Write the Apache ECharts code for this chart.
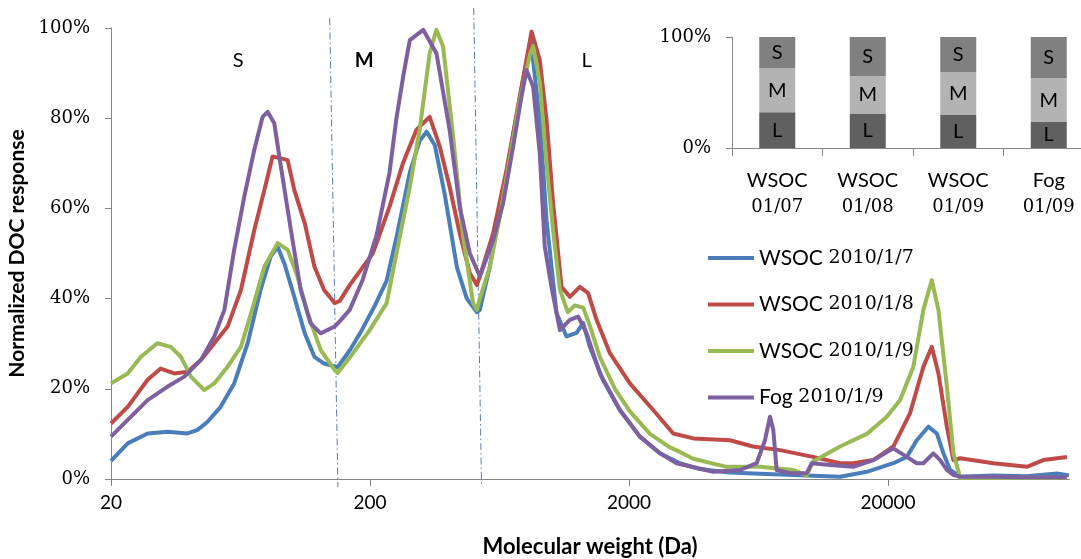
<!DOCTYPE html>
<html><head><meta charset="utf-8">
<script src="https://cdn.jsdelivr.net/npm/echarts@6/dist/echarts.min.js"></script>
<style>html,body{margin:0;padding:0;background:#fff}#c{width:1081px;height:559px}</style>
</head><body><div id="c"></div>
<script>
// ---------- DATA ----------
const seriesNames = ['WSOC 2010/1/7', 'WSOC 2010/1/8', 'WSOC 2010/1/9', 'Fog 2010/1/9'];

const wsoc17MW = [20,23.2,27.7,33.1,39.5,43.2,47.2,53,59.8,67.4,75.6,82.7,88,93.4,102,112,122,133,146,150,167,186,209,232,254,285,311,331,356,389,433,473,517,531,580,634,693,758,835,905,961,1050,1148,1255,1331,1412,1586,1844,2204,2633,3146,3758,4766,6022,7658,9714,13062,16562,20980,23640,25840,28640,30880,32740,34760,38000,51100,68780,90000,100000];
const wsoc17Pct = [4,7.9,10.1,10.5,10.1,10.9,12.7,16,21.2,30.1,41.9,49.3,51.5,47.8,40.4,32.3,27.1,25.6,25,24.8,28.5,33,38.5,44,54,68,75,77,74,63,47,40,37,37.5,47,59.6,72,84.8,97.5,79.6,57.4,36.8,31.6,32.4,34.6,29.3,22,15.3,9.4,5.7,3.5,2.2,1.5,1.2,1.0,0.8,0.5,1.6,3.5,4.9,8.6,11.6,10.1,5.7,2,0.5,0.8,0.6,1.2,0.8];

const wsoc18MW = [20,23.2,27.7,31.1,35.1,39.5,44.5,50.1,56.4,63.5,71.5,78.2,84.1,90.6,96.2,102,112,122,133,146,153,167,205,238,268,302,340,372,406,444,486,517,531,598,673,758,841,905,961,1019,1098,1182,1292,1391,1499,1688,2016,2480,2964,3540,4908,6022,7658,10274,13062,14702,17564,20980,24340,27400,29520,31320,33760,35780,38000,51100,68780,79520,98200];
const wsoc18Pct = [12.3,16,22,24.5,23.4,23.8,26.4,30.1,33.8,41.9,55.2,64.1,71.5,71.1,70.7,64.1,56.7,47.1,41.9,39,39.5,43,50,60.4,70,77.4,80.3,73.7,64.8,54.5,45.6,43,44.9,54.5,68.5,84.8,99.2,92.9,79.6,61.1,42.6,40.4,42.6,41.2,35.3,27.9,21.2,15.3,10.1,9,8.6,7.2,6.4,4.9,3.5,3.5,4.2,7.2,14.6,24.9,29.3,23.4,11.6,4.2,4.6,3.5,2.7,4.2,4.9];

const wsoc19MW = [20,23.2,26.1,30.2,34,37.2,40.7,45.8,50.1,56.4,63.5,69.4,78.2,88,96.2,105,115,129,146,150,172,199.5,232,253,285,311,340,361,383,419,458,500,517,531,580,634,693,758,828,853,905,961,1019,1082,1161,1236,1331,1412,1544,1765,2016,2409,2878,3146,3540,4766,6410,8596,9714,10274,13062,16562,19790,22280,25060,27400,29520,31320,33760,35780,38000,51100,68780,98200];
const wsoc19Pct = [21.2,23.4,27.1,30.1,29.3,27.1,22.7,19.7,21.2,24.9,29.3,36.7,47.1,52.3,50.8,44.9,36.7,28.6,24.2,23.5,27.9,33,39,50,64.8,77.4,94.4,99.6,95.9,75.9,53.7,39,37.5,40,47,58,71,84,94,96,88,70,55,42,37,38.5,38,34,27,20,15,10,7,6,4.5,2.7,2.7,2,0.8,3.9,7.2,10,13.8,17.5,24.9,37.5,44.1,37.5,20.5,5.7,0.3,0.3,0.3,0.3];

const fog19MW = [20,23.2,27.7,33.1,38.4,44.5,50.1,54.8,59.8,65.4,71.5,77,80.5,85.4,90.6,99,108,118,129,146,153,167,187,212,238,253,270,285,321,361,406,444,486,531,598,653,714,769,804,853,905,946,1004,1082,1182,1273,1372,1544,1844,2204,2633,3054,4231,5366,6223,6700,7006,7214,7436,8370,9714,10156,11948,14702,17564,20980,23640,25840,27400,29940,31800,33760,35780,38000,51100,68780,98200];
const fog19Pct = [9.4,13.1,17.5,20.5,22.7,26.4,31.6,37.5,50.8,62.6,73,80.3,81.4,78.9,69.2,55.2,41.9,34.5,32.3,33.8,35,37.5,44,54,68,80,90,97.3,99.6,94.4,77.4,60.4,50,44.9,53,61.1,73.7,84.8,90.7,87,72.2,51.5,42.6,33,35.3,36,32.3,23.4,15.3,9.4,5.7,3.5,1.6,2,3.5,8.6,13.8,10.9,2,1.3,1.3,3.5,3.1,2.7,4.2,6.8,4.9,3.5,3.5,5.7,4.2,2,0.9,0.5,0.5,0.4,0.4];

const xTickMW = [20, 200, 2000, 20000];
const xMinMW = 20, xMaxMW = 100000;

// Fraction dividers (dash-dot lines) and region labels
const dividerTopMW = [139.8, 503];
const dividerTopPct = [102.2, 104.4];
const dividerBottomMW = [150.4, 539];
const dividerBottomPct = [-1.8, -1.3];
const regionLabels = ['S', 'M', 'L'];
const regionLabelMW = [62, 190, 1372];
const regionLabelPct = [92.8, 92.8, 92.8];

// Inset stacked bars (percent of total)
const insetCatTop = ['WSOC', 'WSOC', 'WSOC', 'Fog'];
const insetCatBottom = ['01/07', '01/08', '01/09', '01/09'];
const insetL = [32.2, 31.0, 29.7, 23.4];
const insetM = [39.9, 33.6, 38.7, 39.6];
const insetS = [27.9, 35.4, 31.6, 37.0];

// ---------- CHART ----------
const toAxis = mw => Math.log10(mw / xMinMW);
const colors = ['#4A7EBB', '#BE4B48', '#98B954', '#7D60A0'];
const axisGray = '#868686';
const sans = 'Lato';
const serif = 'DejaVu Serif';

const lineData = [[wsoc17MW, wsoc17Pct], [wsoc18MW, wsoc18Pct], [wsoc19MW, wsoc19Pct], [fog19MW, fog19Pct]];
const lineSeries = lineData.map((d, i) => ({
  name: seriesNames[i], type: 'line', xAxisIndex: 0, yAxisIndex: 0,
  data: d[0].map((m, j) => [toAxis(m), d[1][j]]),
  showSymbol: false, symbol: 'none', smooth: false,
  lineStyle: { width: 4, color: colors[i], join: 'round' }, itemStyle: { color: colors[i] },
  z: 3 + i, animation: false
}));

const insetCats = insetCatTop.map((t, i) => t + '\n' + insetCatBottom[i]);
const barSeg = (name, vals, color) => ({
  name: name, type: 'bar', xAxisIndex: 1, yAxisIndex: 1, stack: 'frac', barWidth: 36,
  data: vals, itemStyle: { color: color },
  label: { show: true, position: 'inside', formatter: name, color: '#000', fontFamily: sans, fontSize: 20 },
  animation: false
});

const option = {
  backgroundColor: '#fff',
  animation: false,
  grid: [
    { left: 111, right: 12, top: 28, bottom: 80, outerBoundsMode: 'none', containLabel: false },
    { left: 732, top: 37, width: 362, height: 111, outerBoundsMode: 'none', containLabel: false }
  ],
  legend: {
    data: seriesNames, orient: 'vertical', left: 703, top: 242.5,
    icon: 'rect', itemWidth: 46, itemHeight: 4, itemGap: 25.5,
    formatter: n => { const p = n.split(' '); return '{a|' + p[0] + '} {b|' + p[1] + '}'; },
    textStyle: { color: '#000', fontSize: 20, lineHeight: 20,
      rich: { a: { fontFamily: sans, fontSize: 21, color: '#000' }, b: { fontFamily: serif, fontSize: 19, color: '#000' } } }
  },
  xAxis: [
    { type: 'value', gridIndex: 0, min: toAxis(xMinMW), max: toAxis(xMaxMW),
      name: 'Molecular weight (Da)', nameLocation: 'middle', nameGap: 57,
      nameTextStyle: { fontFamily: sans, fontWeight: 'bold', fontSize: 22, color: '#000' },
      axisLine: { show: true, lineStyle: { color: axisGray, width: 1 } },
      axisTick: { show: true, length: 7, customValues: xTickMW.map(toAxis), lineStyle: { color: axisGray } },
      axisLabel: { customValues: xTickMW.map(toAxis), margin: 14, fontFamily: sans, fontSize: 19, color: '#000',
        formatter: v => String(Math.round(xMinMW * Math.pow(10, v))) },
      splitLine: { show: false } },
    { type: 'category', gridIndex: 1, data: insetCats,
      axisLine: { show: true, lineStyle: { color: axisGray } },
      axisTick: { show: true, length: 8, lineStyle: { color: axisGray } },
      axisLabel: { interval: 0, margin: 19, color: '#000',
        formatter: v => { const p = v.split('\n'); return '{a|' + p[0] + '}\n{b|' + p[1] + '}'; },
        rich: { a: { fontFamily: sans, fontSize: 20, lineHeight: 27, color: '#000' }, b: { fontFamily: serif, fontSize: 18, lineHeight: 27, color: '#000' } } } }
  ],
  yAxis: [
    { type: 'value', gridIndex: 0, min: 0, max: 100, interval: 20,
      name: 'Normalized DOC response', nameLocation: 'middle', nameGap: 67,
      nameTextStyle: { fontFamily: sans, fontWeight: 'bold', fontSize: 21, color: '#000' },
      axisLine: { show: true, lineStyle: { color: axisGray } },
      axisTick: { show: true, length: 6, lineStyle: { color: axisGray } },
      axisLabel: { formatter: '{value}%', margin: 21, fontFamily: serif, fontSize: 18, color: '#000' },
      splitLine: { show: false } },
    { type: 'value', gridIndex: 1, min: 0, max: 100, interval: 100,
      axisLine: { show: true, lineStyle: { color: axisGray } },
      axisTick: { show: true, length: 6, lineStyle: { color: axisGray } },
      axisLabel: { formatter: '{value}%', margin: 21, fontFamily: serif, fontSize: 18, color: '#000' },
      splitLine: { show: false } }
  ],
  series: [
    { type: 'custom', xAxisIndex: 0, yAxisIndex: 0, clip: false, silent: true, z: 1,
      data: dividerTopMW.map((m, i) => [toAxis(m), dividerTopPct[i], toAxis(dividerBottomMW[i]), dividerBottomPct[i]]),
      encode: { x: [0, 2], y: [1, 3] },
      renderItem: (params, api) => {
        const p1 = api.coord([api.value(0), api.value(1)]);
        const p2 = api.coord([api.value(2), api.value(3)]);
        return { type: 'line', shape: { x1: p1[0], y1: p1[1], x2: p2[0], y2: p2[1] },
          style: { stroke: '#5B7DB3', lineWidth: 1, lineDash: [7, 3, 1.5, 3] } };
      } },
    { type: 'custom', xAxisIndex: 0, yAxisIndex: 0, clip: false, silent: true, z: 2,
      data: regionLabelMW.map((m, i) => [toAxis(m), regionLabelPct[i]]),
      encode: { x: 0, y: 1 },
      renderItem: (params, api) => {
        const p = api.coord([api.value(0), api.value(1)]);
        const t = regionLabels[params.dataIndex];
        return { type: 'text', x: p[0], y: p[1],
          style: { text: t, fontFamily: sans, fontSize: 20, fontWeight: t === 'M' ? 'bold' : 'normal', fill: '#000', align: 'center', verticalAlign: 'middle' } };
      } },
    ...lineSeries,
    barSeg('L', insetL, '#606060'),
    barSeg('M', insetM, '#B3B3B3'),
    barSeg('S', insetS, '#808080')
  ]
};

const chart = echarts.init(document.getElementById('c'), null, { renderer: 'canvas' });
chart.setOption(option);
</script>
</body></html>
